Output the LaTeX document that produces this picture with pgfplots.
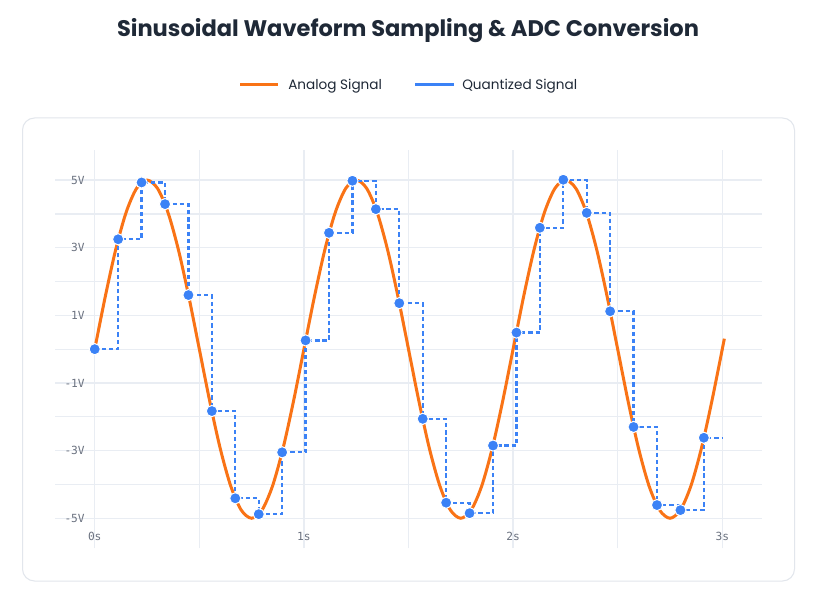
\documentclass[border=0pt]{standalone}
\usepackage{pgfplots}
\pgfplotsset{compat=1.18}
\usepackage{fontspec}
\setmainfont{Poppins}
\setmonofont{DejaVu Sans Mono}
\definecolor{orangeA}{HTML}{F97316}
\definecolor{blueQ}{HTML}{3B82F6}
\definecolor{gridc}{HTML}{E9EDF3}
\definecolor{tickc}{HTML}{6B7280}
\definecolor{titlec}{HTML}{1F2937}
\definecolor{legc}{HTML}{1F2937}
\definecolor{boxc}{HTML}{E2E6EC}
\begin{document}
\begin{tikzpicture}
\fill[white] (0pt,0pt) rectangle (623.25pt,450.75pt);
\path[use as bounding box] (0pt,0pt) rectangle (623.25pt,450.75pt);
\draw[boxc, line width=0.75pt, rounded corners=9pt] (16.875pt,15pt) rectangle (595.875pt,362.25pt);
\node[font=\fontsize{16.9}{20}\selectfont\bfseries, text=titlec] at (306pt,427.5pt) {Sinusoidal Waveform Sampling \& ADC Conversion};
\draw[orangeA, line width=2.25pt] (180pt,387pt) -- (208.5pt,387pt);
\node[anchor=west, font=\fontsize{10.2}{12}\selectfont, text=legc, inner sep=0pt] at (216pt,386.5pt) {Analog Signal};
\draw[blueQ, line width=2.25pt] (311.25pt,387pt) -- (340.5pt,387pt);
\node[anchor=west, font=\fontsize{10.2}{12}\selectfont, text=legc, inner sep=0pt] at (346.5pt,386.5pt) {Quantized Signal};
\begin{axis}[
  at={(41.25pt,39.75pt)}, anchor=south west, scale only axis,
  width=530.25pt, height=298.5pt,
  xmin=-0.19, xmax=3.19, ymin=-5.88, ymax=5.89,
  axis line style={draw=none},
  major tick length=0pt, minor tick length=0pt,
  xtick={0,1,2,3}, xticklabels={0s,1s,2s,3s},
  minor xtick={0.5,1.5,2.5},
  ytick={-5,-3,-1,1,3,5}, yticklabels={-5V,-3V,-1V,1V,3V,5V},
  minor ytick={-4,-2,0,2,4},
  grid=both,
  major grid style={gridc, line width=0.9pt},
  minor grid style={gridc, line width=0.9pt},
  xticklabel style={anchor=center, yshift=9pt, inner sep=0pt, font=\ttfamily\fontsize{8.4}{10}\selectfont, text=tickc},
  yticklabel style={anchor=east, xshift=22.5pt, inner sep=0pt, font=\ttfamily\fontsize{8.4}{10}\selectfont, text=tickc},
  clip=false,
]
% Analog signal
\addplot[orangeA, line width=2.25pt, smooth] coordinates {
(0,0) (0.05,1.545) (0.10,2.939) (0.15,4.045) (0.20,4.755) (0.25,5) (0.30,4.755) (0.35,4.045) (0.40,2.939) (0.45,1.545)
(0.50,0) (0.55,-1.545) (0.60,-2.939) (0.65,-4.045) (0.70,-4.755) (0.75,-5) (0.80,-4.755) (0.85,-4.045) (0.90,-2.939) (0.95,-1.545)
(1.00,0) (1.05,1.545) (1.10,2.939) (1.15,4.045) (1.20,4.755) (1.25,5) (1.30,4.755) (1.35,4.045) (1.40,2.939) (1.45,1.545)
(1.50,0) (1.55,-1.545) (1.60,-2.939) (1.65,-4.045) (1.70,-4.755) (1.75,-5) (1.80,-4.755) (1.85,-4.045) (1.90,-2.939) (1.95,-1.545)
(2.00,0) (2.05,1.545) (2.10,2.939) (2.15,4.045) (2.20,4.755) (2.25,5) (2.30,4.755) (2.35,4.045) (2.40,2.939) (2.45,1.545)
(2.50,0) (2.55,-1.545) (2.60,-2.939) (2.65,-4.045) (2.70,-4.755) (2.75,-5) (2.80,-4.755) (2.85,-4.045) (2.90,-2.939) (2.95,-1.545)
(3.01,0.31)
};
% Quantized signal (step)
\addplot[blueQ, line width=1.7pt, dash pattern=on 3.2pt off 2.2pt, const plot, no marks] coordinates {
(0,0) (0.112,3.25) (0.224,4.93) (0.336,4.29) (0.448,1.60) (0.56,-1.83) (0.672,-4.41) (0.784,-4.88) (0.896,-3.05)
(1.008,0.26) (1.12,3.44) (1.232,4.98) (1.344,4.14) (1.456,1.36) (1.568,-2.06) (1.68,-4.54) (1.792,-4.85) (1.904,-2.85)
(2.016,0.49) (2.128,3.59) (2.24,5.01) (2.352,4.03) (2.464,1.12) (2.576,-2.30) (2.688,-4.61) (2.80,-4.76) (2.912,-2.62)
(3.0,-2.62)
};
% Sample points
\addplot[only marks, mark=*, mark size=4.2pt, mark options={fill=blueQ, draw=white, line width=0.75pt}] coordinates {
(0,0) (0.112,3.25) (0.224,4.93) (0.336,4.29) (0.448,1.60) (0.56,-1.83) (0.672,-4.41) (0.784,-4.88) (0.896,-3.05)
(1.008,0.26) (1.12,3.44) (1.232,4.98) (1.344,4.14) (1.456,1.36) (1.568,-2.06) (1.68,-4.54) (1.792,-4.85) (1.904,-2.85)
(2.016,0.49) (2.128,3.59) (2.24,5.01) (2.352,4.03) (2.464,1.12) (2.576,-2.30) (2.688,-4.61) (2.80,-4.76) (2.912,-2.62)
};
\end{axis}
\end{tikzpicture}
\end{document}
